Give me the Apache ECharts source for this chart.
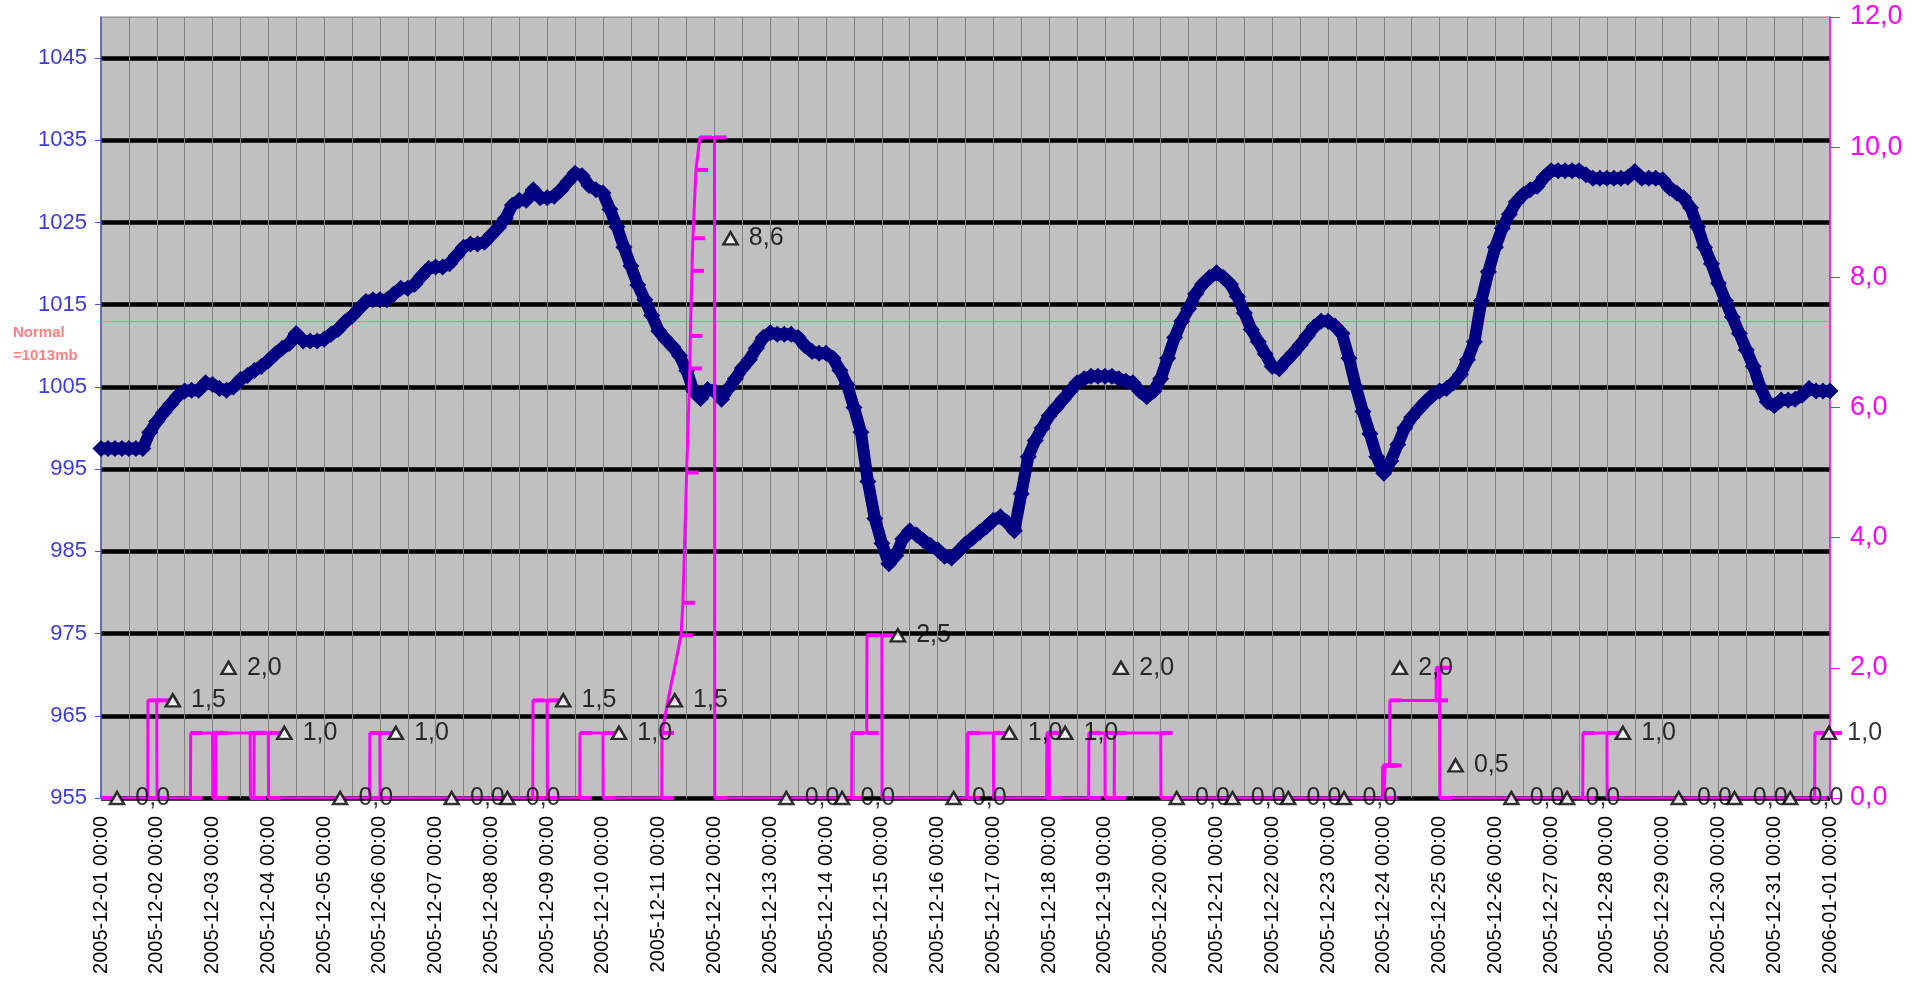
<!DOCTYPE html>
<html><head><meta charset="utf-8">
<script src="https://cdn.jsdelivr.net/npm/echarts@6/dist/echarts.min.js"></script>
<style>html,body{margin:0;padding:0;background:#fff}#c{width:1926px;height:983px}</style>
</head><body><div id="c"></div>
<script>
// ---- data ----
const dayLabels = ['2005-12-01 00:00','2005-12-02 00:00','2005-12-03 00:00','2005-12-04 00:00','2005-12-05 00:00','2005-12-06 00:00','2005-12-07 00:00','2005-12-08 00:00','2005-12-09 00:00','2005-12-10 00:00','2005-12-11 00:00','2005-12-12 00:00','2005-12-13 00:00','2005-12-14 00:00','2005-12-15 00:00','2005-12-16 00:00','2005-12-17 00:00','2005-12-18 00:00','2005-12-19 00:00','2005-12-20 00:00','2005-12-21 00:00','2005-12-22 00:00','2005-12-23 00:00','2005-12-24 00:00','2005-12-25 00:00','2005-12-26 00:00','2005-12-27 00:00','2005-12-28 00:00','2005-12-29 00:00','2005-12-30 00:00','2005-12-31 00:00','2006-01-01 00:00'];
const pressureTicks = [955,965,975,985,995,1005,1015,1025,1035,1045];
const rainTicks = [0,2,4,6,8,10,12];
const normalPressure = 1013;
// pressure (mb), one value every 3 hours from 2005-12-01 00:00
const pressureStepHours = 3;
const pressureValues = [
 997.5,997.5,997.5,997.5,997.5,997.5,997.5,999.5,
 1000.8,1001.9,1002.9,1003.9,1004.5,1004.6,1004.6,1005.5,
 1005.3,1004.8,1004.6,1005,1005.9,1006.4,1007,1007.5,
 1008.2,1009,1009.7,1010.3,1011.5,1010.6,1010.6,1010.6,
 1010.8,1011.4,1012,1012.9,1013.6,1014.5,1015.4,1015.6,
 1015.6,1015.6,1016.3,1017,1017,1017.5,1018.5,1019.4,
 1019.6,1019.6,1020,1021,1022,1022.4,1022.4,1022.6,
 1023.5,1024.4,1025.5,1027.1,1027.7,1027.7,1029,1028,
 1028,1028.2,1029,1030,1031,1030.7,1029.5,1029,
 1028.6,1026.6,1024.5,1022,1019.7,1017.4,1015.6,1013.7,
 1011.8,1010.8,1009.9,1008.8,1007,1004.5,1003.6,1004.7,
 1004.5,1003.5,1004.8,1006,1007.3,1008.3,1009.7,1011,
 1011.6,1011.4,1011.4,1011.4,1011,1010,1009.3,1009.1,
 1009.1,1008.5,1007,1005.3,1002.5,999.5,993.5,989,
 986,983.5,984.5,986.5,987.5,987,986.3,985.7,
 985.2,984.4,984.2,985,985.9,986.6,987.3,988,
 988.8,989.2,988.5,987.5,992,996.5,998.5,1000,
 1001.5,1002.5,1003.5,1004.5,1005.5,1006,1006.3,1006.3,
 1006.3,1006.3,1006,1005.7,1005.5,1004.5,1003.8,1004.5,
 1006,1008.5,1011,1013,1014.5,1016.3,1017.5,1018.3,
 1018.9,1018.3,1017.5,1016,1014,1012,1010.5,1009,
 1007.5,1007.2,1008.2,1009.1,1010.1,1011.2,1012.3,1013,
 1013,1012.4,1011.5,1008.5,1005,1002,999.3,996.5,
 994.5,996,998,1000,1001.3,1002.3,1003.2,1004,
 1004.5,1004.8,1005.5,1006.5,1008.3,1010.5,1015.5,1019,
 1022,1024.3,1026,1027.5,1028.4,1029,1029.4,1030.5,
 1031.3,1031.3,1031.3,1031.3,1031.3,1030.8,1030.4,1030.4,
 1030.4,1030.4,1030.4,1030.5,1031.2,1030.4,1030.4,1030.4,
 1030.2,1029.2,1028.6,1028,1026.8,1024.5,1022,1020,
 1017.6,1015.5,1013.5,1011.5,1009.5,1007.5,1005,1003.2,
 1002.7,1003.4,1003.4,1003.5,1004,1004.8,1004.5,1004.5,
 1004.5
];
// rain since midnight (mm): hours from 2005-12-01 00:00 and values
const rainHours = [0,20.1,20.2,24,24.1,
 38.5,38.6,48,48.1,49.3,49.4,64.2,64.3,65.8,65.9,72,72.1,
 115.6,115.7,120,120.1,
 185.8,185.9,192,192.1,
 206,206.1,216,216.1,
 241.3,241.4,244,249.6,250.4,252,253.4,253.6,254.3,254.7,256,257.7,264,264.1,
 323,323.1,329.5,329.6,336,336.1,
 372.8,372.9,384,384.1,
 406.9,407,408,408.1,
 425,425.1,432,432.1,436,436.1,456,456.1,
 551.4,551.5,552,552.1,552.5,552.6,554.5,554.6,574.5,574.6,576,576.1,
 637.6,637.7,648,648.1,
 737.4,737.5,744];
const rainValues = [0,0,1.5,1.5,0,
 0,1,1,0,0,1,1,0,0,1,1,0,
 0,1,1,0,
 0,1.5,1.5,0,
 0,1,1,0,
 0,1,1.5,2.5,3,5,6.6,7.1,8.1,8.6,9.65,10.15,10.15,0,
 0,1,1,2.5,2.5,0,
 0,1,1,0,
 0,1,1,0,
 0,1,1,0,0,1,1,0,
 0,0.5,0.5,0,0,0.5,0.5,1.5,1.5,2,2,0,
 0,1,1,0,
 0,1,1];
// daily rain totals, one per day at 00:00
const dailyRain = [0,1.5,2.0,1.0,0,1.0,0,0,1.5,1.0,1.5,8.6,0,0,2.5,0,1.0,1.0,2.0,0,0,0,0,2.0,0.5,0,0,1.0,0,0,0,1.0];

// ---- chart ----
const FONT = '"Liberation Sans", Arial, Helvetica, sans-serif';
const comma = v => Number(v).toFixed(1).replace('.', ',');
const pressureData = pressureValues.map((v, i) => [i * pressureStepHours, v]);
const rainData = rainHours.map((h, i) => [h, rainValues[i]]);
const dailyData = dailyRain.map((v, i) => {
  const item = {value: [i * 24, v]};
  if (i === dailyRain.length - 1) item.symbolOffset = [-1, 0];
  return item;
});

const chart = echarts.init(document.getElementById('c'), null, {renderer: 'canvas'});
chart.setOption({
  animation: false,
  textStyle: {fontFamily: FONT},
  grid: {left: 101, right: 96, top: 17, bottom: 185, show: true,
         backgroundColor: '#c0c0c0', borderColor: '#808080', borderWidth: 1},
  xAxis: {
    type: 'value', min: 0, max: 744, interval: 12,
    axisLine: {show: true, onZero: false, lineStyle: {color: '#000', width: 1}},
    axisTick: {show: false},
    splitLine: {show: true, showMinLine: false, showMaxLine: false, lineStyle: {color: '#808080', width: 1}},
    axisLabel: {rotate: 90, fontSize: 20, color: '#000', margin: 18, fontFamily: FONT,
      formatter: v => (v % 24 === 0 ? dayLabels[v / 24] : '')}
  },
  yAxis: [
    { // pressure axis (thin 5 mb lines, labels)
      type: 'value', min: 955, max: 1050, interval: 5, position: 'left',
      axisLine: {show: true, lineStyle: {color: '#5252c4', width: 1.5}},
      axisTick: {show: true, length: 6, lineStyle: {color: '#5252c4'}, customValues: pressureTicks},
      axisLabel: {show: true, fontSize: 22, color: '#3b3bd6', margin: 14, fontFamily: FONT,
        customValues: pressureTicks,
        formatter: v => (pressureTicks.indexOf(v) >= 0 ? String(v) : '')},
      splitLine: {show: true, showMaxLine: false, lineStyle: {color: '#1e1e1e', width: 1}}
    },
    { // thick 10 mb lines (same pixel scale, offset values)
      type: 'value', min: 0, max: 95, interval: 10, position: 'left',
      axisLine: {show: false}, axisTick: {show: false}, axisLabel: {show: false},
      splitLine: {show: true, showMaxLine: false, lineStyle: {color: '#000', width: 4.5}}
    },
    { // rain axis
      type: 'value', min: 0, max: 12, interval: 2, position: 'right',
      axisLine: {show: true, lineStyle: {color: '#ff00ff', width: 1.5}},
      axisTick: {show: true, length: 10, lineStyle: {color: '#ff00ff'}},
      axisLabel: {fontSize: 27, color: '#ff00ff', margin: 20, fontFamily: FONT, formatter: comma},
      splitLine: {show: false}
    }
  ],
  series: [
    {
      name: 'Pressure', type: 'line', yAxisIndex: 0, z: 3,
      data: pressureData,
      symbol: 'diamond', symbolSize: 17, showAllSymbol: true,
      itemStyle: {color: '#000080'},
      lineStyle: {color: '#000080', width: 12},
      markLine: {
        silent: true, symbol: 'none', z: 2,
        label: {show: false},
        lineStyle: {color: '#ff8080', width: 1, type: 'solid'},
        data: [{yAxis: normalPressure}]
      }
    },
    {
      name: 'Rain', type: 'line', yAxisIndex: 2, z: 5,
      data: rainData,
      symbol: 'rect', symbolSize: [12, 4], symbolOffset: [6, 0], showAllSymbol: true,
      itemStyle: {color: '#ff00ff'},
      lineStyle: {color: '#ff00ff', width: 3}
    },
    {
      name: 'Daily', type: 'scatter', yAxisIndex: 2, z: 8,
      data: dailyData,
      symbol: 'triangle', symbolSize: [14, 12], symbolOffset: [16, 0],
      itemStyle: {color: '#ffffff', borderColor: '#000', borderWidth: 2.5},
      label: {show: true, position: 'right', distance: 10, fontSize: 25, color: '#000', fontFamily: FONT,
        formatter: p => comma(p.value[1])}
    }
  ],
  graphic: [
    {type: 'text', left: 13, top: 321, silent: true,
     style: {text: 'Normal\n=1013mb', fill: '#ff8080', font: 'bold 15px ' + FONT, lineHeight: 23}}
  ]
});
</script>
</body></html>
